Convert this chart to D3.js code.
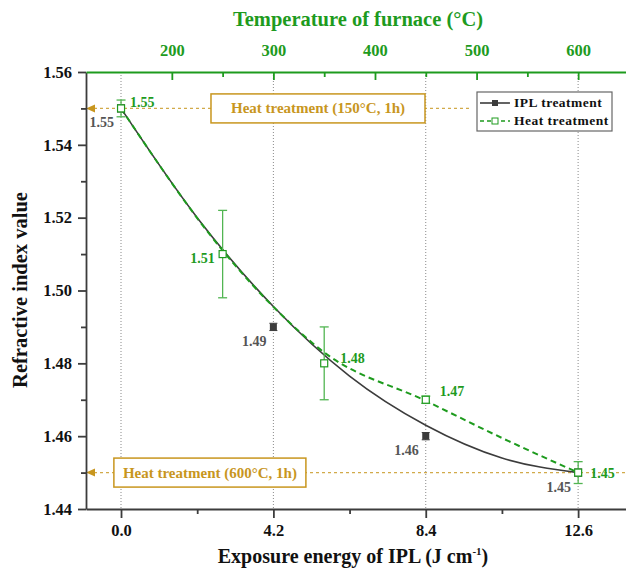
<!DOCTYPE html>
<html>
<head>
<meta charset="utf-8">
<script src="https://cdn.jsdelivr.net/npm/d3@7"></script>
<style>
  body { margin: 0; background: #fff; }
  text { font-family: "Liberation Serif", "Times New Roman", serif; font-weight: bold; }
</style>
</head>
<body>
<div id="chart"></div>
<script>
// Data
var iplEnergy = [0, 4.2, 8.4, 12.6];
var iplValue = [1.55, 1.49, 1.46, 1.45];
var iplErr = [0.001, 0.001, 0.001, 0.001];

var heatTemp = [150, 250, 350, 450, 600];
var heatValue = [1.55, 1.51, 1.48, 1.47, 1.45];
var heatErr = [0.0023, 0.012, 0.01, 0.001, 0.003];

// fitted curves as drawn in the figure
var iplFitEnergy = [0, 2.1, 4.2, 6.3, 8.4, 10.5, 12.6];
var iplFitValue = [1.55, 1.520, 1.4956, 1.4765, 1.463, 1.454, 1.45];
var heatFitTemp = [150, 250, 300, 350, 450, 525, 600];
var heatFitValue = [1.55, 1.511, 1.4955, 1.483, 1.4697, 1.4595, 1.45];

var xTicks = [0, 4.2, 8.4, 12.6];
var xMinor = [2.1, 6.3, 10.5];
var yTicks = [1.44, 1.46, 1.48, 1.50, 1.52, 1.54, 1.56];
var yMinor = [1.45, 1.47, 1.49, 1.51, 1.53, 1.55];
var tTicks = [200, 300, 400, 500, 600];
var tMinor = [250, 350, 450, 550];

var refValues = [1.55, 1.45];
var refLabels = ["Heat treatment (150\u00B0C, 1h)", "Heat treatment (600\u00B0C, 1h)"];

(function() {
  var margin = {top: 72, right: 0, bottom: 64, left: 86},
      width = 626 - margin.left - margin.right,
      height = 573 - margin.top - margin.bottom;

  var green = "#1e9b1e", gold = "#c8961e", dark = "#3c3c3c", labelGray = "#555"

  var svg = d3.select("#chart")
        .append("svg")
        .attr("width", 626)
        .attr("height", 573)
        .append("g")
        .attr("transform", "translate(" + margin.left + "," + margin.top + ")");

  // Scales
  var xPositionScale = d3.scaleLinear().domain([-0.965, 13.92]).range([0, width])
  var tempScale = d3.scaleLinear().domain([115.5, 647.1]).range([0, width])
  var yPositionScale = d3.scaleLinear().domain([1.44, 1.56]).range([height, 0])

  // vertical dotted grid
  svg.selectAll(".grid")
    .data(xTicks)
    .enter().append("line")
    .attr("x1", function(d) { return xPositionScale(d) })
    .attr("x2", function(d) { return xPositionScale(d) })
    .attr("y1", 0)
    .attr("y2", height)
    .attr("stroke", "#8a8a8a")
    .attr("stroke-width", 1)
    .attr("stroke-dasharray", "1,2")

  // reference lines for heat treatment
  var refEnd = [9.6, 13.92]
  var boxCenter = [5.43, 2.45]
  var boxPad = [20, 9]

  refValues.forEach(function(v, i) {
    var yv = yPositionScale(v)
    svg.append("line")
      .attr("x1", 8)
      .attr("x2", xPositionScale(refEnd[i]))
      .attr("y1", yv).attr("y2", yv)
      .attr("stroke", gold)
      .attr("stroke-width", 1.2)
      .attr("stroke-dasharray", "3,3")
      .attr("opacity", 0.8)
    svg.append("path")
      .attr("d", "M0," + yv + "L9," + (yv - 4) + "L9," + (yv + 4) + "Z")
      .attr("fill", gold)

    var g = svg.append("g")
    var t = g.append("text")
      .attr("x", xPositionScale(boxCenter[i]))
      .attr("y", yv + 5)
      .attr("text-anchor", "middle")
      .attr("fill", gold)
      .attr("font-size", 15)
      .text(refLabels[i])
    var bb = t.node().getBBox()
    g.insert("rect", "text")
      .attr("x", bb.x - boxPad[i])
      .attr("y", yv - 14.5)
      .attr("width", bb.width + 2 * boxPad[i])
      .attr("height", 29)
      .attr("fill", "#fff")
      .attr("stroke", gold)
      .attr("stroke-width", 1.5)
  })

  // fit lines
  var iplLine = d3.line()
    .x(function(d) { return xPositionScale(d[0]) })
    .y(function(d) { return yPositionScale(d[1]) })
    .curve(d3.curveMonotoneX)
  var heatLine = d3.line()
    .x(function(d) { return tempScale(d[0]) })
    .y(function(d) { return yPositionScale(d[1]) })
    .curve(d3.curveMonotoneX)

  svg.append("path")
    .datum(iplFitEnergy.map(function(e, i) { return [e, iplFitValue[i]] }))
    .attr("d", iplLine)
    .attr("fill", "none")
    .attr("stroke", dark)
    .attr("stroke-width", 1.6)

  svg.append("path")
    .datum(heatFitTemp.map(function(t, i) { return [t, heatFitValue[i]] }))
    .attr("d", heatLine)
    .attr("fill", "none")
    .attr("stroke", green)
    .attr("stroke-width", 2)
    .attr("stroke-dasharray", "6,4")

  // IPL points
  var ipl = iplEnergy.map(function(e, i) { return {x: e, y: iplValue[i], err: iplErr[i]} })
  var iplG = svg.selectAll(".ipl")
    .data(ipl)
    .enter().append("g")
  iplG.append("line")
    .attr("x1", function(d) { return xPositionScale(d.x) })
    .attr("x2", function(d) { return xPositionScale(d.x) })
    .attr("y1", function(d) { return yPositionScale(d.y - d.err) })
    .attr("y2", function(d) { return yPositionScale(d.y + d.err) })
    .attr("stroke", dark)
  iplG.selectAll(".cap")
    .data(function(d) { return [d.y - d.err, d.y + d.err].map(function(v) { return {x: d.x, v: v} }) })
    .enter().append("line")
    .attr("x1", function(d) { return xPositionScale(d.x) - 4 })
    .attr("x2", function(d) { return xPositionScale(d.x) + 4 })
    .attr("y1", function(d) { return yPositionScale(d.v) })
    .attr("y2", function(d) { return yPositionScale(d.v) })
    .attr("stroke", dark)
  iplG.append("rect")
    .attr("x", function(d) { return xPositionScale(d.x) - 3.5 })
    .attr("y", function(d) { return yPositionScale(d.y) - 3.5 })
    .attr("width", 7)
    .attr("height", 7)
    .attr("fill", dark)

  iplG.append("text")
    .attr("x", function(d) { return xPositionScale(d.x) - 7 })
    .attr("y", function(d) { return yPositionScale(d.y) + 19 })
    .attr("text-anchor", "end")
    .attr("fill", labelGray)
    .attr("font-size", 14)
    .text(function(d) { return d3.format(".2f")(d.y) })

  // heat treatment points
  var heat = heatTemp.map(function(t, i) { return {x: t, y: heatValue[i], err: heatErr[i]} })
  var heatG = svg.selectAll(".heat")
    .data(heat)
    .enter().append("g")
  heatG.append("line")
    .attr("x1", function(d) { return tempScale(d.x) })
    .attr("x2", function(d) { return tempScale(d.x) })
    .attr("y1", function(d) { return yPositionScale(d.y - d.err) })
    .attr("y2", function(d) { return yPositionScale(d.y + d.err) })
    .attr("stroke", "#52b552")
    .attr("stroke-width", 1.3)
  heatG.selectAll(".cap")
    .data(function(d) { return [d.y - d.err, d.y + d.err].map(function(v) { return {x: d.x, v: v} }) })
    .enter().append("line")
    .attr("x1", function(d) { return tempScale(d.x) - 4.5 })
    .attr("x2", function(d) { return tempScale(d.x) + 4.5 })
    .attr("y1", function(d) { return yPositionScale(d.v) })
    .attr("y2", function(d) { return yPositionScale(d.v) })
    .attr("stroke", "#52b552")
    .attr("stroke-width", 1.3)
  heatG.append("rect")
    .attr("x", function(d) { return tempScale(d.x) - 3.5 })
    .attr("y", function(d) { return yPositionScale(d.y) - 3.5 })
    .attr("width", 7)
    .attr("height", 7)
    .attr("fill", "#fff")
    .attr("stroke", green)
    .attr("stroke-width", 1.2)

  // label placement per point (1.51 sits left of its point)
  var heatDx = [9, -8, 16, 14, 12]
  var heatDy = [-1, 9, 0, -4, 5]
  heatG.append("text")
    .attr("x", function(d, i) { return tempScale(d.x) + heatDx[i] })
    .attr("y", function(d, i) { return yPositionScale(d.y) + heatDy[i] })
    .attr("text-anchor", function(d, i) { return heatDx[i] < 0 ? "end" : "start" })
    .attr("fill", green)
    .attr("font-size", 14)
    .text(function(d) { return d3.format(".2f")(d.y) })

  // Axes
  var xAxis = d3.axisBottom(xPositionScale)
    .tickValues(xTicks)
    .tickFormat(d3.format(".1f"))
    .tickSize(9)
    .tickSizeOuter(0)
    .tickPadding(6)
  svg.append("g")
    .attr("transform", "translate(0," + height + ")")
    .call(xAxis)
  svg.append("g")
    .attr("transform", "translate(0," + height + ")")
    .call(d3.axisBottom(xPositionScale).tickValues(xMinor).tickFormat("").tickSize(5).tickSizeOuter(0))
    .select(".domain").remove()

  var yAxis = d3.axisLeft(yPositionScale)
    .tickValues(yTicks)
    .tickFormat(d3.format(".2f"))
    .tickSize(8)
    .tickSizeOuter(0)
    .tickPadding(6)
  svg.append("g").call(yAxis)
  svg.append("g")
    .call(d3.axisLeft(yPositionScale).tickValues(yMinor).tickFormat("").tickSize(5).tickSizeOuter(0))
    .select(".domain").remove()

  var tAxis = d3.axisTop(tempScale)
    .tickValues(tTicks)
    .tickSize(-8)
    .tickSizeOuter(0)
    .tickPadding(16)
  var gt = svg.append("g").call(tAxis)
  svg.append("g")
    .call(d3.axisTop(tempScale).tickValues(tMinor).tickFormat("").tickSize(-5).tickSizeOuter(0))
    .attr("class", "tminor")
    .select(".domain").remove()

  svg.selectAll(".domain, .tick line").attr("stroke", dark).attr("stroke-width", 1.8)
  gt.selectAll(".domain, .tick line").attr("stroke", green).attr("stroke-width", 1.8)
  svg.selectAll(".tminor .tick line").attr("stroke", green).attr("stroke-width", 1.8)

  svg.selectAll(".tick text")
    .attr("font-family", "Liberation Serif, serif")
    .attr("font-weight", "bold")
    .attr("font-size", 16.5)
    .attr("fill", "#111")
  gt.selectAll(".tick text").attr("fill", green)

  // axis titles
  svg.append("text")
    .attr("x", 267)
    .attr("y", height + 54)
    .attr("text-anchor", "middle")
    .attr("font-size", 20)
    .attr("fill", "#111")
    .html("Exposure energy of IPL (J cm<tspan dy='-8' font-size='11'>-1</tspan><tspan dy='8'>)</tspan>")

  svg.append("text")
    .attr("x", 272)
    .attr("y", -46)
    .attr("text-anchor", "middle")
    .attr("font-size", 20.5)
    .attr("fill", green)
    .text("Temperature of furnace (\u00B0C)")

  svg.append("text")
    .attr("transform", "translate(-59," + (290 - margin.top) + ") rotate(-90)")
    .attr("text-anchor", "middle")
    .attr("font-size", 20.5)
    .attr("fill", "#111")
    .text("Refractive index value")

  // legend
  var legend = svg.append("g").attr("transform", "translate(" + (477 - margin.left) + "," + (92 - margin.top) + ")")
  legend.append("rect")
    .attr("width", 135).attr("height", 39)
    .attr("fill", "#fff")
    .attr("stroke", "#666")
    .attr("stroke-width", 1.2)
  legend.append("line")
    .attr("x1", 3).attr("x2", 33).attr("y1", 11).attr("y2", 11)
    .attr("stroke", dark).attr("stroke-width", 1.6)
  legend.append("rect")
    .attr("x", 15).attr("y", 8).attr("width", 6).attr("height", 6).attr("fill", dark)
  legend.append("line")
    .attr("x1", 3).attr("x2", 33).attr("y1", 29).attr("y2", 29)
    .attr("stroke", green).attr("stroke-width", 1.6).attr("stroke-dasharray", "4,3")
  legend.append("rect")
    .attr("x", 15).attr("y", 26).attr("width", 6).attr("height", 6)
    .attr("fill", "#fff").attr("stroke", green)
  legend.selectAll(".lt")
    .data(["IPL treatment", "Heat treatment"])
    .enter().append("text")
    .attr("x", 37)
    .attr("y", function(d, i) { return 15 + i * 18 })
    .attr("font-size", 13.5)
    .attr("letter-spacing", 0.5)
    .attr("fill", "#111")
    .text(function(d) { return d })
})();
</script>
</body>
</html>
